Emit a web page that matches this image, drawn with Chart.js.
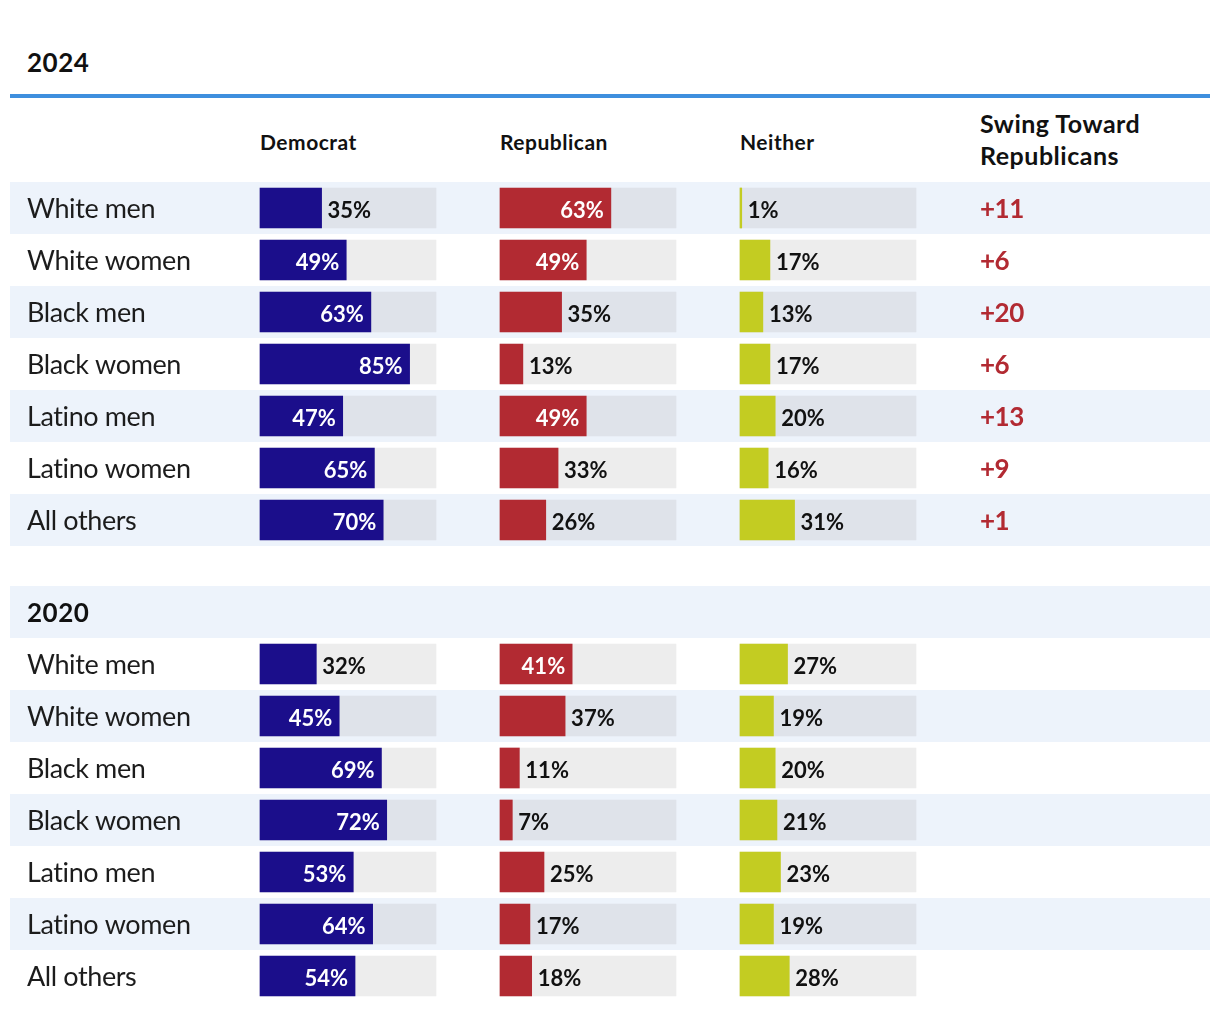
<!DOCTYPE html>
<html>
<head>
<meta charset="utf-8">
<script src="https://cdn.jsdelivr.net/npm/chart.js@4.4.1/dist/chart.umd.min.js"></script>
<style>
  body { margin: 0; background: #fff; font-family: Lato, sans-serif; color: #111; }
  #wrap { position: relative; width: 1220px; height: 1012px; overflow: hidden; }
  .abs { position: absolute; white-space: nowrap; line-height: 1.2; }
  .year { left: 27px; top: 47px; font-size: 26px; font-weight: 700; letter-spacing: 0.5px; }
  .rule { left: 10px; top: 94px; width: 1200px; height: 4px; background: #3e8fde; }
  .colhead { top: 129px; font-size: 21px; font-weight: 700; letter-spacing: 0.5px; }
  .swing { left: 980px; top: 107px; font-size: 25px; font-weight: 700; line-height: 32px; letter-spacing: 0.5px; }
  canvas { position: absolute; left: 0; }
</style>
</head>
<body>
<div id="wrap">
  <div class="abs year">2024</div>
  <div class="abs rule"></div>
  <div class="abs colhead" style="left:260px">Democrat</div>
  <div class="abs colhead" style="left:500px">Republican</div>
  <div class="abs colhead" style="left:740px">Neither</div>
  <div class="abs swing">Swing Toward<br>Republicans</div>
  <canvas id="c2024" width="1220" height="364" style="top:182px"></canvas>
  <canvas id="c2020" width="1220" height="416" style="top:586px"></canvas>
</div>
<script>
// rows
const groups = ['White men', 'White women', 'Black men', 'Black women', 'Latino men', 'Latino women', 'All others'];

// 2024 shares (%)
const dem2024 = [35, 49, 63, 85, 47, 65, 70];
const rep2024 = [63, 49, 35, 13, 49, 33, 26];
const nei2024 = [1, 17, 13, 17, 20, 16, 31];
const swing2024 = [11, 6, 20, 6, 13, 9, 1];

// 2020 shares (%)
const dem2020 = [32, 45, 69, 72, 53, 64, 54];
const rep2020 = [41, 37, 11, 7, 25, 17, 18];
const nei2020 = [27, 19, 20, 21, 23, 19, 28];

// full 100% track behind each bar
const track = [100, 100, 100, 100, 100, 100, 100];

const DEM = '#1b0e8b';
const REP = '#b22a32';
const NEI = '#c3cc22';
const TRACK = 'rgba(173,173,173,0.22)';
const STRIPE = '#edf3fb';
const RED_TXT = '#b22a32';

// layout of the columns, in canvas pixels
const PAD_X = 10;
const CANVAS_W = 1220;
const COL_W = 176;
const COL_LEFT = { xD: 260, xR: 500, xN: 740 };
const SWING_X = 980;
const LABEL_X = 27;

// each column gets its own hidden axis so that 0..100 spans that column
function columnAxis(left) {
    const pxPerUnit = COL_W / 100;
    const span = (CANVAS_W - 2 * PAD_X) / pxPerUnit;
    const min = -(left - PAD_X) / pxPerUnit;
    return { type: 'linear', display: false, min: min, max: min + span };
}

const tablePlugin = {
    id: 'table',
    beforeDatasetsDraw(chart) {
        const { ctx, chartArea, scales: { y } } = chart;
        const band = y.getPixelForValue(1) - y.getPixelForValue(0);
        ctx.save();
        ctx.fillStyle = STRIPE;
        chart.data.labels.forEach((lab, i) => {
            if (i % 2 !== 0) return;
            const cy = y.getPixelForValue(i);
            ctx.fillRect(chartArea.left, cy - band / 2, chartArea.right - chartArea.left, band);
        });
        ctx.restore();
    },
    afterDatasetsDraw(chart, args, opts) {
        const { ctx, scales: { y } } = chart;
        ctx.save();
        ctx.textBaseline = 'alphabetic';

        // row labels
        chart.data.labels.forEach((lab, i) => {
            const cy = y.getPixelForValue(i);
            const isHeader = (opts.headers || []).includes(i);
            ctx.textAlign = 'left';
            if (isHeader) {
                ctx.font = '700 26px Lato';
                ctx.letterSpacing = '0.5px';
                ctx.fillStyle = '#111';
                ctx.fillText(lab, LABEL_X, cy + 10);
            } else {
                ctx.font = '400 27px Lato';
                ctx.letterSpacing = '-0.4px';
                ctx.fillStyle = '#1c1c1c';
                ctx.fillText(lab, LABEL_X, cy + 10);
            }
        });

        // percentages on the bars
        ctx.font = '700 22px Lato';
        ctx.letterSpacing = '0px';
        chart.data.datasets.forEach((ds, di) => {
            if (ds.role !== 'value') return;
            const meta = chart.getDatasetMeta(di);
            meta.data.forEach((el, i) => {
                const v = ds.data[i];
                if (v == null) return;
                const txt = v + '%';
                if (v >= 40) {
                    ctx.fillStyle = '#fff';
                    ctx.textAlign = 'right';
                    ctx.fillText(txt, el.x - 7, el.y + 10);
                } else {
                    ctx.fillStyle = '#111';
                    ctx.textAlign = 'left';
                    ctx.fillText(txt, el.x + 6, el.y + 10);
                }
            });
        });

        // swing column
        if (opts.swing) {
            ctx.font = '700 26px Lato';
            ctx.letterSpacing = '-0.5px';
            ctx.fillStyle = RED_TXT;
            ctx.textAlign = 'left';
            opts.swing.forEach((s, i) => {
                if (s == null) return;
                ctx.fillText('+' + s, SWING_X, y.getPixelForValue(i) + 10);
            });
        }
        ctx.restore();
    }
};

function makeTable(canvasId, labels, dem, rep, nei, trk, pluginOpts) {
    const bar = (data, color, axis, role) => ({
        data: data,
        backgroundColor: color,
        xAxisID: axis,
        role: role,
        grouped: false,
        barThickness: 40,
        borderWidth: 0,
        order: role === 'track' ? 2 : 1
    });
    return new Chart(document.getElementById(canvasId), {
        type: 'bar',
        data: {
            labels: labels,
            datasets: [
                bar(trk, TRACK, 'xD', 'track'),
                bar(trk, TRACK, 'xR', 'track'),
                bar(trk, TRACK, 'xN', 'track'),
                bar(dem, DEM, 'xD', 'value'),
                bar(rep, REP, 'xR', 'value'),
                bar(nei, NEI, 'xN', 'value')
            ]
        },
        options: {
            indexAxis: 'y',
            responsive: false,
            animation: false,
            events: [],
            layout: { padding: { left: PAD_X, right: PAD_X, top: 0, bottom: 0 } },
            scales: {
                y: { type: 'category', display: false },
                xD: columnAxis(COL_LEFT.xD),
                xR: columnAxis(COL_LEFT.xR),
                xN: columnAxis(COL_LEFT.xN)
            },
            plugins: {
                legend: { display: false },
                tooltip: { enabled: false },
                table: pluginOpts
            }
        },
        plugins: [tablePlugin]
    });
}

makeTable('c2024', groups, dem2024, rep2024, nei2024, track, { swing: swing2024 });

makeTable('c2020', ['2020'].concat(groups),
    [null].concat(dem2020), [null].concat(rep2020), [null].concat(nei2020),
    [null].concat(track), { headers: [0] });
</script>
</body>
</html>
